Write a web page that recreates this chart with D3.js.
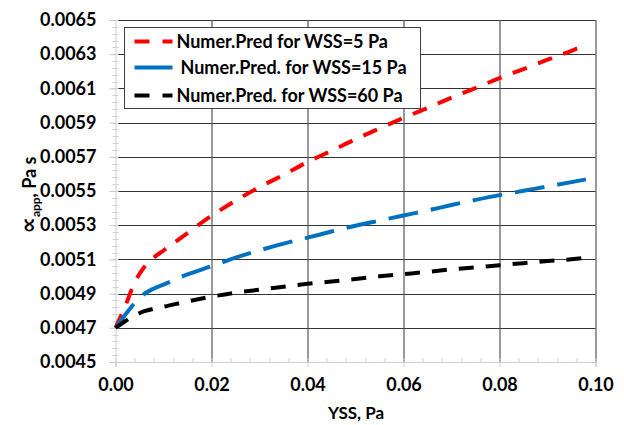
<!DOCTYPE html>
<html>
<head>
<meta charset="utf-8">
<script src="https://cdn.jsdelivr.net/npm/d3@7"></script>
<style>
  body { margin: 0; background: #fff; }
  svg text { font-family: Lato, "Open Sans", sans-serif; font-weight: bold; fill: #000; }
</style>
</head>
<body>
<div id="chart"></div>
<script>
// yield stress (Pa) sampled along the curves
const yss = [0, 0.002, 0.004, 0.006, 0.008, 0.01, 0.015, 0.02, 0.025, 0.03, 0.035, 0.04,
  0.045, 0.05, 0.055, 0.06, 0.065, 0.07, 0.075, 0.08, 0.085, 0.09, 0.095, 0.098];

const wss5 = [0.0047, 0.004825, 0.004965, 0.005056, 0.005111, 0.005152, 0.005254, 0.005355,
  0.005443, 0.005523, 0.005594, 0.00567, 0.005735, 0.005803, 0.005866, 0.005928, 0.005985,
  0.006046, 0.006102, 0.00616, 0.006213, 0.006268, 0.00632, 0.006355];
const wss15 = [0.0047, 0.004775, 0.004845, 0.004898, 0.00493, 0.004953, 0.005012, 0.00506,
  0.00511, 0.005153, 0.005192, 0.005227, 0.005263, 0.005297, 0.005327, 0.005357, 0.005386,
  0.005418, 0.005448, 0.005476, 0.005501, 0.005527, 0.005552, 0.005568];
const wss60 = [0.0047, 0.004738, 0.004772, 0.004797, 0.004812, 0.004823, 0.004854, 0.004882,
  0.004905, 0.004923, 0.00494, 0.004957, 0.004971, 0.004985, 0.005001, 0.005014, 0.005027,
  0.005042, 0.005053, 0.005066, 0.005078, 0.00509, 0.005101, 0.00511];

const seriesNames = ["Numer.Pred for WSS=5 Pa", "Numer.Pred. for WSS=15 Pa", "Numer.Pred. for WSS=60 Pa"];
const xTicks = [0, 0.02, 0.04, 0.06, 0.08, 0.1];
const yTicks = [0.0045, 0.0047, 0.0049, 0.0051, 0.0053, 0.0055, 0.0057, 0.0059, 0.0061, 0.0063, 0.0065];

const width = 624, height = 425;
const margin = { top: 20, right: 28.5, bottom: 63, left: 115.5 };
const innerW = width - margin.left - margin.right;
const innerH = height - margin.top - margin.bottom;

const series = [
  { name: seriesNames[0], values: wss5, color: "#ff0000", dash: "15,12", sample: "15,13" },
  { name: seriesNames[1], values: wss15, color: "#0070c0", dash: "30,13", sample: null },
  { name: seriesNames[2], values: wss60, color: "#000000", dash: "15,12", sample: "15,13" }
];

const svg = d3.select("#chart")
  .append("svg")
  .attr("width", width)
  .attr("height", height);

const g = svg.append("g").attr("transform", `translate(${margin.left},${margin.top})`);

const xScale = d3.scaleLinear().domain([0, 0.1]).range([0, innerW]);
const yScale = d3.scaleLinear().domain([0.0045, 0.0065]).range([innerH, 0]);

// horizontal gridlines
g.append("g")
  .selectAll("line")
  .data(yTicks.slice(1))
  .join("line")
  .attr("x1", 0)
  .attr("x2", innerW)
  .attr("y1", (d) => Math.round(yScale(d)) + 0.5)
  .attr("y2", (d) => Math.round(yScale(d)) + 0.5)
  .attr("stroke", "#333")
  .attr("stroke-width", 1);

// vertical gridlines
g.append("g")
  .selectAll("line")
  .data(xTicks.slice(1))
  .join("line")
  .attr("x1", (d) => Math.round(xScale(d)) + 0.5)
  .attr("x2", (d) => Math.round(xScale(d)) + 0.5)
  .attr("y1", 0)
  .attr("y2", innerH)
  .attr("stroke", "#555")
  .attr("stroke-width", 1.2);

// minor ticks
const yMinor = d3.range(0.0045, 0.00651, 0.00004);
g.append("g")
  .selectAll("line")
  .data(yMinor)
  .join("line")
  .attr("x1", -3)
  .attr("x2", 3)
  .attr("y1", (d) => Math.round(yScale(d)) + 0.5)
  .attr("y2", (d) => Math.round(yScale(d)) + 0.5)
  .attr("stroke", "#d0d0d0");

const xMinor = d3.range(0, 0.1001, 0.004);
g.append("g")
  .selectAll("line")
  .data(xMinor)
  .join("line")
  .attr("x1", (d) => Math.round(xScale(d)) + 0.5)
  .attr("x2", (d) => Math.round(xScale(d)) + 0.5)
  .attr("y1", innerH - 4)
  .attr("y2", innerH)
  .attr("stroke", "#d0d0d0");

// Y Axis
const yAxis = d3.axisLeft(yScale).tickValues(yTicks).tickSize(6).tickPadding(13)
  .tickFormat(d3.format(".4f"));
g.append("g")
  .attr("class", "y-axis")
  .call(yAxis)
  .call((a) => a.select(".domain").attr("stroke", "#d0d0d0"))
  .call((a) => a.selectAll(".tick line").attr("stroke", "#c8c8c8"))
  .call((a) => a.selectAll(".tick text").attr("font-size", 18).attr("font-family", null));

// X Axis
const xAxis = d3.axisBottom(xScale).tickValues(xTicks).tickSize(5).tickPadding(11)
  .tickFormat(d3.format(".2f"));
g.append("g")
  .attr("class", "x-axis")
  .attr("transform", `translate(0,${innerH})`)
  .call(xAxis)
  .call((a) => a.select(".domain").attr("stroke", "#d0d0d0"))
  .call((a) => a.selectAll(".tick line").attr("stroke", "#c8c8c8"))
  .call((a) => a.selectAll(".tick text").attr("font-size", 18).attr("font-family", null));

// curves
const line = d3.line()
  .x((d, i) => xScale(yss[i]))
  .y((d) => yScale(d))
  .curve(d3.curveMonotoneX);

g.append("g")
  .selectAll("path")
  .data(series)
  .join("path")
  .attr("d", (s) => line(s.values))
  .attr("fill", "none")
  .attr("stroke", (s) => s.color)
  .attr("stroke-width", 4)
  .attr("stroke-dasharray", (s) => s.dash);

// legend
const legend = svg.append("g").attr("transform", "translate(124.5,27.5)");
legend.append("rect")
  .attr("width", 296)
  .attr("height", 81)
  .attr("fill", "#fff")
  .attr("stroke", "#404040");

const rows = legend.selectAll("g.row")
  .data(series)
  .join("g")
  .attr("class", "row")
  .attr("transform", (s, i) => `translate(0,${[14, 40, 68][i]})`);

rows.append("line")
  .attr("x1", 10)
  .attr("x2", 48)
  .attr("stroke", (s) => s.color)
  .attr("stroke-width", 4)
  .attr("stroke-dasharray", (s) => s.sample);

rows.append("text")
  .attr("x", (s, i) => (i === 1 ? 56 : 52))
  .attr("dy", "0.35em")
  .attr("font-size", 18)
  .text((s) => s.name);

// axis titles
svg.append("text")
  .attr("x", 356)
  .attr("y", 419)
  .attr("text-anchor", "middle")
  .attr("font-size", 17)
  .text("YSS, Pa");

const yTitle = svg.append("text")
  .attr("transform", "translate(36,195) rotate(-90)")
  .attr("text-anchor", "middle")
  .attr("font-size", 18);
yTitle.append("tspan").style("font-family", "DejaVu Sans").style("font-size", "23px").text("\u221d");
yTitle.append("tspan").style("font-size", "12px").attr("dy", 4).text("app");
yTitle.append("tspan").attr("dy", -4).text(", Pa s");
</script>
</body>
</html>
